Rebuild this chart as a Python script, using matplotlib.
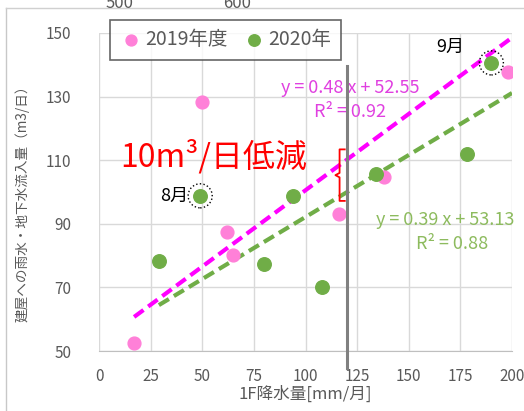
import matplotlib
matplotlib.use('Agg')
import matplotlib.pyplot as plt
import numpy as np

plt.rcParams['font.family'] = ['Noto Sans CJK JP', 'DejaVu Sans']

# 2019年度 data (rainfall mm/month, inflow m3/day)
rain_2019 = [17, 50, 62, 65, 116, 138, 198]
inflow_2019 = [52.5, 128.3, 87.5, 80.3, 93.2, 104.8, 137.6]

# 2020年 data
rain_2020 = [29, 49, 80, 94, 108, 134, 178, 190]
inflow_2020 = [78.4, 98.8, 77.5, 98.8, 70.0, 105.8, 111.8, 140.6]

# trendline coefficients shown in the chart
coef_2019 = (0.48, 52.55)
coef_2020 = (0.39, 53.13)

pink = '#FF80D8'
magenta = '#FF00FF'
green = '#70AD47'
grey_txt = '#595959'

fig = plt.figure(figsize=(5.24, 4.11), dpi=100)
ax = fig.add_axes([99 / 524, 1 - 351 / 411, 413 / 524, 318 / 411])

ax.set_xlim(0, 200)
ax.set_ylim(50, 150)
ax.set_xticks(np.arange(0, 201, 25))
ax.set_yticks(np.arange(50, 151, 20))
ax.grid(True, color='#D9D9D9', linewidth=1)
ax.set_axisbelow(True)
for s in ['top', 'right', 'left']:
    ax.spines[s].set_visible(False)
ax.spines['bottom'].set_color('#BFBFBF')
ax.tick_params(length=0, colors=grey_txt, labelsize=11)
ax.tick_params(axis='y', pad=20)
ax.tick_params(axis='x', pad=12)

# trend lines over the data range
x19 = np.array([min(rain_2019), 200])
x20 = np.array([min(rain_2020), 200])
ax.plot(x19, coef_2019[0] * x19 + coef_2019[1], color=magenta, lw=3,
        dashes=(2.8, 1.4), zorder=2)
ax.plot(x20, coef_2020[0] * x20 + coef_2020[1], color=green, lw=3,
        dashes=(2.8, 1.4), zorder=2)

ax.scatter(rain_2019, inflow_2019, s=85, color=pink, zorder=3, label='2019年度')
ax.scatter(rain_2020, inflow_2020, s=95, color=green, zorder=3, label='2020年')

# dotted circles around Aug / Sep
ax.scatter([rain_2020[1], rain_2020[7]], [inflow_2020[1], inflow_2020[7]], s=300,
           facecolors='none', edgecolors='black', linestyles=':', linewidths=1, zorder=4)
ax.text(rain_2020[1] - 6, inflow_2020[1], '8月', fontsize=13, ha='right', va='center')
ax.text(rain_2020[7] - 13, inflow_2020[7] + 5, '9月', fontsize=13, ha='right', va='center')

# vertical reference line
ax.plot([120, 120], [44.7, 139.5], color='#808080', lw=2.2, clip_on=False, zorder=5)

# brace between the two trend lines
bx = 116.5
ax.plot([bx + 2.5, bx, bx, bx - 2, bx, bx, bx + 2.5],
        [113.4, 113.4, 106, 105.3, 104.6, 97.2, 97.2],
        color='red', lw=1.3, zorder=5)
ax.text(55.5, 111.2, '10m³/日低減', color='red', fontsize=23, ha='center', va='center')

# equations
ax.text(121.5, 132.7, 'y = 0.48 x + 52.55', color='#E040E0', fontsize=13,
        ha='center', va='center')
ax.text(121.5, 125.2, 'R² = 0.92', color='#E040E0', fontsize=13, ha='center', va='center')
ax.text(134, 91.3, 'y = 0.39 x + 53.13', color='#8DBB5E', fontsize=13,
        ha='left', va='center', clip_on=False)
ax.text(171, 83.8, 'R² = 0.88', color='#8DBB5E', fontsize=13, ha='center', va='center')

ax.set_xlabel('1F降水量[mm/月]', color=grey_txt, fontsize=12, labelpad=1)
fig.text(22 / 524, 1 - 200 / 411, '建屋への雨水・地下水流入量（m3/日）', rotation=90,
         color=grey_txt, fontsize=9.8, ha='center', va='center')

leg = ax.legend(loc='upper left', bbox_to_anchor=(1 / 413, 1 + 23 / 318), ncol=2,
                fontsize=14, frameon=True, fancybox=False, handletextpad=0.1,
                columnspacing=0.8, handlelength=1.2, borderpad=0.5,
                labelcolor=grey_txt, markerscale=0.85)
leg.get_frame().set_edgecolor('#404040')
leg.get_frame().set_linewidth(1.2)

# screenshot frame around the chart
fig.add_artist(plt.Line2D([6 / 524, 6 / 524], [0, 1 - 8 / 411], color='#C8C8C8', lw=1))
fig.add_artist(plt.Line2D([6 / 524, 1], [1 - 8 / 411, 1 - 8 / 411], color='#D0D0D0', lw=1))
fig.text(120 / 524, 1 - 3 / 411, '500', color=grey_txt, fontsize=12, ha='center', va='center')
fig.text(237 / 524, 1 - 3 / 411, '600', color=grey_txt, fontsize=12, ha='center', va='center')

fig.savefig('out.png', dpi=100)
